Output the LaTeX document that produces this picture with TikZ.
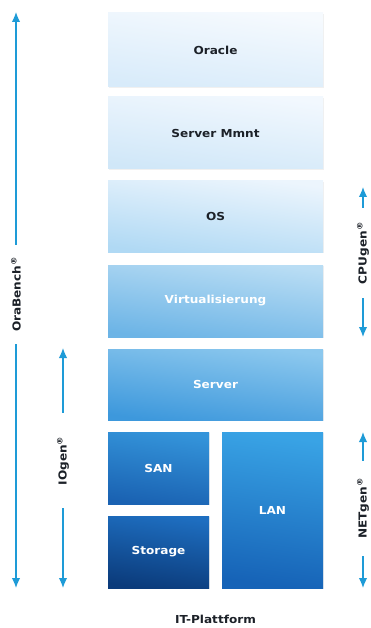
\documentclass[tikz,border=0pt]{standalone}
\usepackage{fontspec}
\setmainfont{DejaVu Sans}[FakeStretch=1.1]
\usepackage{tikz}
\usetikzlibrary{arrows.meta,shadows}
\definecolor{arrowblue}{HTML}{1E9BD7}
\definecolor{labelgray}{HTML}{1C2128}
\definecolor{oracleTop}{HTML}{F6FAFE} \definecolor{oracleBot}{HTML}{D8EBFA}
\definecolor{mmntTop}{HTML}{F2F8FE}   \definecolor{mmntBot}{HTML}{D0E7F8}
\definecolor{osTop}{HTML}{ECF5FD}     \definecolor{osBot}{HTML}{B0D9F4}
\definecolor{virtTop}{HTML}{B9DDF4}   \definecolor{virtBot}{HTML}{6CB4E6}
\definecolor{serverTop}{HTML}{8CC8EE} \definecolor{serverBot}{HTML}{3D98DC}
\definecolor{sanTop}{HTML}{3494DA}    \definecolor{sanBot}{HTML}{1A62B2}
\definecolor{storTop}{HTML}{1E6EC0}   \definecolor{storBot}{HTML}{0B3B7B}
\definecolor{lanTop}{HTML}{39A3E5}    \definecolor{lanBot}{HTML}{1663B7}
\tikzstyle{layer} = [rectangle, inner sep=0pt, font=\bfseries\fontsize{11}{13}\selectfont,
    drop shadow={opacity=0.12, shadow xshift=1pt, shadow yshift=-1pt}]
\tikzstyle{wide} = [layer, minimum width=215pt, minimum height=72pt]
\tikzstyle{half} = [layer, minimum width=101pt, minimum height=72pt]
\tikzset{grad/.style 2 args={top color=#1, bottom color=#2, shading angle=-8}}
\tikzstyle{dim} = [draw=arrowblue, line width=1.3pt,
    {Latex[length=10pt,width=8.5pt]}-{Latex[length=10pt,width=8.5pt]}]
\tikzstyle{dimlabel} = [fill=white, rotate=90, text=labelgray, inner ysep=1pt,
    font=\bfseries\fontsize{11}{13}\selectfont]

\begin{document}
\begin{tikzpicture}[x=1pt, y=-1pt]
\useasboundingbox (0,0) rectangle (370,628);
    % Place nodes
\node[wide, text=labelgray, grad={oracleTop}{oracleBot}, minimum height=74pt]
  (oracle) at (215.5,50) {Oracle};
\node[wide, text=labelgray, grad={mmntTop}{mmntBot}]
  (mmnt) at (215.5,133) {Server Mmnt};
\node[wide, text=labelgray, grad={osTop}{osBot}, minimum height=71pt]
  (os) at (215.5,216.5) {OS};
\node[wide, text=white, grad={virtTop}{virtBot}]
  (virt) at (215.5,301) {Virtualisierung};
\node[wide, text=white, grad={serverTop}{serverBot}, minimum height=71pt]
  (server) at (215.5,384.5) {Server};
\node[half, text=white, grad={sanTop}{sanBot}]
  (san) at (158.5,468) {SAN};
\node[half, text=white, grad={storTop}{storBot}]
  (storage) at (158.5,552) {Storage};
\node[half, text=white, grad={lanTop}{lanBot}, minimum height=156pt]
  (lan) at (272.5,510) {LAN};
\node[text=labelgray, font=\bfseries\fontsize{11}{13}\selectfont]
  (platform) at (215.5,619) {IT-Plattform};

\coordinate (ob-top) at (16,12);   \coordinate (ob-bot) at (16,588);
\coordinate (io-top) at (63,348);  \coordinate (io-bot) at (63,588);
\coordinate (cpu-top) at (363,187); \coordinate (cpu-bot) at (363,337);
\coordinate (net-top) at (363,432); \coordinate (net-bot) at (363,588);

    % Draw edges
\draw[dim] (ob-bot) -- node[dimlabel, pos=0.51, inner xsep=12pt] {OraBench\textsuperscript{®}} (ob-top);
\draw[dim] (io-bot) -- node[dimlabel, pos=0.53, inner xsep=23pt] {IOgen\textsuperscript{®}} (io-top);
\draw[dim] (cpu-bot) -- node[dimlabel, pos=0.56, inner xsep=14pt] {CPUgen\textsuperscript{®}} (cpu-top);
\draw[dim] (net-bot) -- node[dimlabel, pos=0.51, inner xsep=17pt] {NETgen\textsuperscript{®}} (net-top);

\end{tikzpicture}
\end{document}
